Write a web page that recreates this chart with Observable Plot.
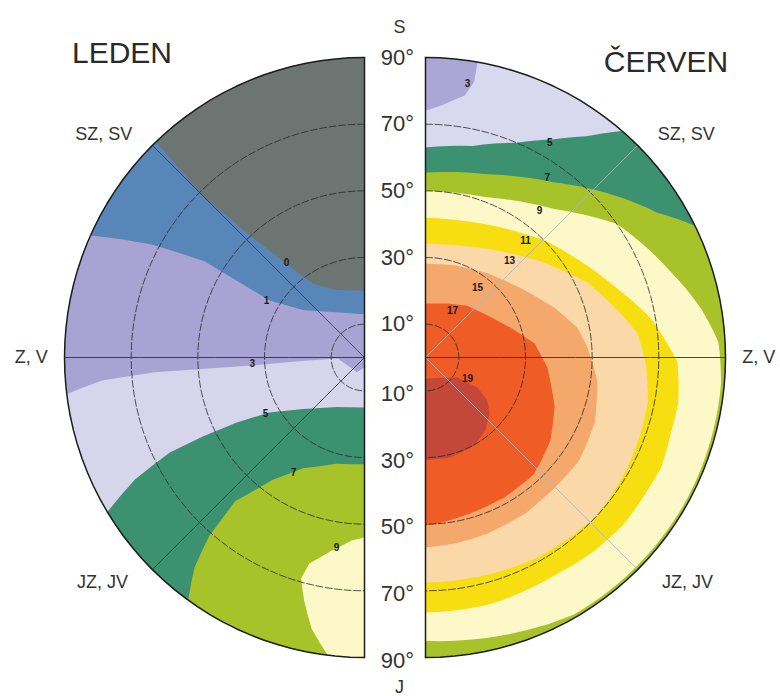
<!DOCTYPE html>
<html>
<head>
<meta charset="utf-8">
<script src="https://cdn.jsdelivr.net/npm/d3@7"></script>
<script src="https://cdn.jsdelivr.net/npm/@observablehq/plot@0.6"></script>
<style>
  body { margin: 0; background: #fff; font-family: "Liberation Sans", Arial, sans-serif; }
  #wrap { position: relative; width: 780px; height: 696px; overflow: hidden; background: #fff; }
  #wrap svg { position: absolute; left: 0; top: 0; }
  .title { position: absolute; font-size: 30px; color: #2a2a2a; transform: translate(-50%, -50%); white-space: nowrap; }
</style>
</head>
<body>
<div id="wrap">
  <div class="title" style="left:122px;top:53px">LEDEN</div>
  <div class="title" style="left:666px;top:62px">ČERVEN</div>
</div>
<script>
// ---------- DATA: contour lines as [azimuth from north (°), slope inclination (°)] ----------
// LEDEN (January), values increase towards the south
const ledenLevels = [0, 1, 3, 5, 7, 9];
const ledenC0 = [[0,20],[23,22],[35,27],[40,37],[43,49],[45,68],[44,90]];
const ledenC1 = [[0,13],[32,16],[52,23],[59,33],[59,45],[59,56],[62,72],[66,90]];
const ledenC3 = [[180,3],[153,5],[92,8],[93,18],[94,33],[94,48],[94,63],[95,79],[97,90]];
const ledenC5 = [[180,15],[151,17],[130,24],[120,33],[117,43],[116,54],[116,65],[118,78],[121,90]];
const ledenC7 = [[180,32],[165,33],[151,38],[143,46],[138,58],[139,71],[141,81],[144,90]];
const ledenC9 = [[180,54],[176,55],[170,59],[165,64],[164,69],[166,75],[169,83],[173,90]];
const ledenContours = [ledenC0, ledenC1, ledenC3, ledenC5, ledenC7, ledenC9];
const ledenPalette = ["#6d7572", "#5886b8", "#a8a3d3", "#d6d5ec", "#3c9270", "#a8c22a", "#fcf8c8"];
const ledenLabelText = ["0", "1", "3", "5", "7", "9"];
const ledenLabelAz   = [39.4, 59.8, 93.1, 119.5, 148.3, 171.6];
const ledenLabelInc  = [36.9, 34, 33.7, 34.1, 40.5, 57.6];

// ČERVEN (June)
const cervenLevels = [3, 5, 7, 9, 11, 13, 15, 17, 19];
const cervenC3  = [[0,74],[4,76],[8.5,79.5],[10,84],[10,90]];
const cervenC5  = [[0,63],[12.5,65],[23,70],[30.5,76],[36,82],[41,90]];
const cervenC7  = [[0,55.5],[18.6,58],[36,65],[51,76],[58,82],[64,90]];
const cervenC9  = [[0,50],[21,51.5],[41,59],[55,70],[70,77.5],[80,84],[87,88],[95,89],[120,89.2],[150,89],[161,87],[170,85.8],[180,85]];
const cervenC11 = [[0,42],[25,44],[45,50],[70,61],[80,68.5],[91,75.6],[100,77],[107,77],[115,78],[121,77.6],[130,77.7],[139,77],[149,76],[165,76.5],[180,76.5]];
const cervenC13 = [[0,34.2],[30,37.6],[49,44.5],[65,53.4],[76,59.3],[83.5,64],[91,66],[101,68],[109.5,68.4],[118.6,69],[133,70],[143,69],[151,68.8],[160,68],[172.6,67.5],[180,67.5]];
const cervenC15 = [[0,28.2],[17.5,29],[36,31.3],[54,35.4],[69,41.5],[79,46.5],[86.5,48.7],[97.6,52],[111,54.4],[124,55.5],[136,55],[147,55.5],[160.6,56],[171,56.5],[180,57]];
const cervenC17 = [[0,16.2],[22,17.5],[39,20],[70.6,27],[82.7,33],[94.7,36.7],[111,41.5],[123.6,45],[137,47.8],[150.6,48.2],[164,48.7],[176,50],[180,50.4]];
const cervenC19 = [[180,6.3],[140,7.9],[122,11.3],[120,18],[124.7,22.6],[131,25.5],[140.6,28.3],[151,30.2],[166,30.9],[180,30.9]];
const cervenContours = [cervenC3, cervenC5, cervenC7, cervenC9, cervenC11, cervenC13, cervenC15, cervenC17, cervenC19];
const cervenPalette = ["#aaa6d6", "#d8d8ef", "#3c9270", "#a8c22a", "#fcf8c8", "#f7de10", "#fad8a8", "#f4a86c", "#f05c26", "#c4483a"];
const cervenLabelText = ["3", "5", "7", "9", "11", "13", "15", "17", "19"];
const cervenLabelAz   = [8.7, 30, 34.1, 37.8, 40.5, 40.9, 36.6, 29.9, 116.6];
const cervenLabelInc  = [83.2, 74.5, 65.2, 55.8, 46.2, 38.5, 26.2, 16.3, 14.1];

// axes / tick labels
const radialTicks = [10, 30, 50, 70, 90];
const compassText = ["SZ, SV", "Z, V", "JZ, JV"];
const compassAz   = [49.4, 90, 130.6];
const compassInc  = [103, 100, 103.5];
const poleText = ["S", "J"];
const poleAz   = [0, 180];
const poleInc  = [99, 99];

// ---------- drawing ----------
const CY = 357;
const K = 300 / (Math.PI / 2);
const FONT = '"Liberation Sans", Arial, sans-serif';

function makeHalf({side, cx, contours, palette, labelText, labelAz, labelInc, diagStroke, withTicks}) {
  const lon = side === "left" ? (d => d - 180) : (d => 180 - d);
  const P = ([d, i]) => [lon(d), 90 - i];
  const projection = d3.geoAzimuthalEquidistant().rotate([0, -90]).scale(K).translate([cx, CY]).precision(0.1);

  function polygon(ring) {
    const coords = ring.map(P);
    coords.push(coords[0]);
    const f = {type: "Feature", properties: {}, geometry: {type: "Polygon", coordinates: [coords]}};
    if (d3.geoArea(f) > 2 * Math.PI) coords.reverse();
    return f;
  }
  function region(c) {
    const ring = c.slice();
    const [dl, il] = ring[ring.length - 1];
    if (il >= 90) for (const e of [45, 90, 135, 180]) if (e > dl) ring.push([e, 90]);
    if (ring[0][0] === 0) ring.push([0, 0]);
    return polygon(ring);
  }
  const base = polygon([[0, 0], [0, 90], [45, 90], [90, 90], [135, 90], [180, 90]]);
  const parallels = radialTicks.filter(t => t < 90).map(t => ({type: "LineString", coordinates: d3.range(0, 181, 3).map(d => P([d, t]))}));
  const diagonals = [45, 135].map(d => ({type: "LineString", coordinates: [P([d, 0]), P([d, 90])]}));
  const horizontal = {type: "LineString", coordinates: [P([90, 0]), P([90, 90])]};
  const rim = {type: "LineString", coordinates: [P([0, 90]), P([45, 90]), P([90, 90]), P([135, 90]), P([180, 90])]};
  const axisLine = {type: "LineString", coordinates: [P([0, 90]), P([0, 0]), P([180, 90])]};

  const labels = labelText.map((t, k) => ({t, d: labelAz[k], i: labelInc[k]}));
  const compass = compassText.map((t, k) => ({t, d: compassAz[k], i: compassInc[k]}));

  const marks = [
    Plot.geo([base], {fill: palette[0], stroke: "none"}),
    ...contours.map((c, k) => Plot.geo([region(c)], {fill: palette[k + 1], stroke: "none"})),
    Plot.geo(parallels, {fill: "none", stroke: "#2a2a2a", strokeWidth: 0.8, strokeDasharray: "7,2.5"}),
    Plot.geo(diagonals, {fill: "none", stroke: diagStroke, strokeWidth: 0.8}),
    Plot.geo([horizontal], {fill: "none", stroke: "#333", strokeWidth: 0.9}),
    Plot.geo([rim, axisLine], {fill: "none", stroke: "#1c1c1c", strokeWidth: 1.5}),
    Plot.text(labels, {x: o => lon(o.d), y: o => 90 - o.i, text: "t", fontSize: 10, fontWeight: "bold", fill: "#1a1a1a"}),
    Plot.text(compass, {x: o => lon(o.d), y: o => 90 - o.i, text: "t", fontSize: 18, fill: "#333"})
  ];
  if (withTicks) {
    marks.push(
      Plot.text(radialTicks, {x: () => lon(0), y: t => 90 - t, text: t => `${t}°`, dx: 33, fontSize: 22, fill: "#333"}),
      Plot.text(radialTicks, {x: () => lon(180), y: t => 90 - t, text: t => `${t}°`, dx: 33, dy: 3, fontSize: 22, fill: "#333"}),
      Plot.text(poleText.map((t, k) => ({t, d: poleAz[k], i: poleInc[k]})), {x: o => lon(o.d), y: o => 90 - o.i, text: "t", dx: 35, fontSize: 18, fill: "#333"})
    );
  }
  return Plot.plot({
    width: 780, height: 696, projection,
    style: {background: "transparent", fontFamily: FONT, overflow: "visible"},
    marks
  });
}

const wrap = document.getElementById("wrap");
wrap.appendChild(makeHalf({side: "left", cx: 364, contours: ledenContours, palette: ledenPalette,
  labelText: ledenLabelText, labelAz: ledenLabelAz, labelInc: ledenLabelInc, diagStroke: "#333", withTicks: true}));
wrap.appendChild(makeHalf({side: "right", cx: 425, contours: cervenContours, palette: cervenPalette,
  labelText: cervenLabelText, labelAz: cervenLabelAz, labelInc: cervenLabelInc, diagStroke: "#b5b5b5", withTicks: false}));
</script>
</body>
</html>
